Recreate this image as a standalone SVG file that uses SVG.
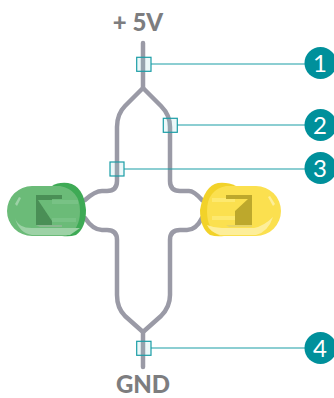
<svg xmlns="http://www.w3.org/2000/svg" width="334" height="398" viewBox="0 0 334 398">
<style>
.wire{fill:none;stroke:#9a9aa6;stroke-width:4.500;stroke-linecap:round;stroke-linejoin:round}
.lead{fill:none;stroke:#1a9da6;stroke-width:1.2}
.probe{fill:#7fd0d6;fill-opacity:.15;stroke:#1a9da6;stroke-width:1.2}
.badge{fill:#00909b}
.num{font:400 24px Lato,"Noto Sans",sans-serif;fill:#fff;text-anchor:middle}
.cap{font:900 24px Lato,"Noto Sans",sans-serif;fill:#7d7d7f;text-anchor:middle}
</style>
<g id="wires" class="wire">
<path d="M143 43V88L125 106C119 112 117 118 117 127V181Q117 191 107 191H102Q95 191 85 200"/>
<path d="M143 88L161 106C167 112 170 118 170 127V181Q170 191 180 191H189Q194 191 202 200"/>
<path d="M85 218Q93 230 102 230H107Q117 230 117 240V295C117 304 119 310 125 316L143 332V367"/>
<path d="M202 218Q196 230 187 230H180Q170 230 170 240V295C170 304 167 310 161 316L143 332"/>
</g>
<g id="led-green">
<path d="M52 186Q58 182 68 183Q84 186 86 210Q86 228 76 235Q70 237 62 236Z" fill="#3eaa55"/>
<path d="M32 186H60Q80 190 80 211Q80 230 66 236H32A25 25 0 0 1 32 186Z" fill="#6bbb78"/>
<path d="M52 200H78V204H52ZM52 218H76V222H52Z" fill="#78c285"/>
<path d="M36 195H62V199H52V225H36Z" fill="#4a8f56"/>
<path d="M38 200H52V221Z" fill="#6bbb78"/>
<path d="M36 225H62V227H40Z" fill="#8ab890"/>
<path d="M15 218Q18 228 32 228H80L70 235H32Q19 233 15 218Z" fill="#9dd2a6"/>
<path d="M15 204L19 197L21 198L17 206Z" fill="#9dd2a6"/>
</g>
<g id="led-yellow">
<path d="M236 186Q228 182 218 183Q204 186 200 210Q200 228 210 235Q216 237 224 236Z" fill="#f2d229"/>
<path d="M256 186H226Q207 190 207 211Q207 230 220 236H256A25 25 0 0 0 256 186Z" fill="#fbe04f"/>
<path d="M212 198H235V202H212ZM212 216H235V220H212Z" fill="#fde96f"/>
<path d="M226 195H252V225H235V211L248 199H226Z" fill="#bda82c"/>
<path d="M226 225H252V227H229Z" fill="#e8d566"/>
<path d="M207 225Q214 228 222 228H254Q264 226 273 217Q268 232 256 235H220Q210 232 207 225Z" fill="#fdee9a"/>
<path d="M268 197L270 196L275 204L273 206Z" fill="#fdee9a"/>
</g>
<g id="connectors">
<rect class="probe" x="136.700" y="57.300" width="14.300" height="14"/>
<rect class="probe" x="163.300" y="118.300" width="14" height="14"/>
<rect class="probe" x="110" y="162" width="14" height="14"/>
<rect class="probe" x="136.700" y="341.300" width="14.300" height="14"/>
<path class="lead" d="M151 64H305M177 125H305M124 169H305M151 348H305"/>
</g>
<g id="badge-1"><circle class="badge" cx="320.500" cy="63" r="16"/><text class="num" x="320" y="72">1</text></g>
<g id="badge-2"><circle class="badge" cx="320.500" cy="125" r="16"/><text class="num" x="320" y="134">2</text></g>
<g id="badge-3"><circle class="badge" cx="320.500" cy="168" r="16"/><text class="num" x="320" y="177">3</text></g>
<g id="badge-4"><circle class="badge" cx="320.500" cy="348" r="16"/><text class="num" x="320" y="357">4</text></g>
<text class="cap" x="138" y="31">+ 5V</text>
<text class="cap" x="143" y="392.800">GND</text>
</svg>
